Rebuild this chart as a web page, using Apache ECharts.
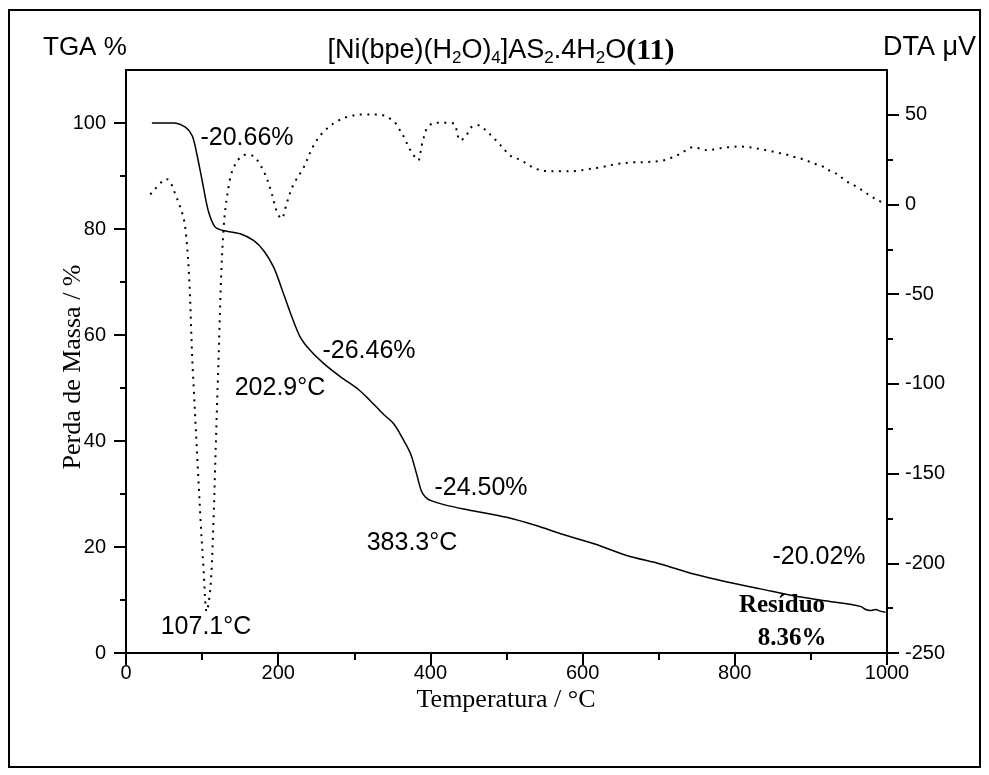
<!DOCTYPE html>
<html><head><meta charset="utf-8">
<script src="https://cdn.jsdelivr.net/npm/echarts@6/dist/echarts.min.js"></script>
<style>html,body{margin:0;padding:0;background:#fff}#c{width:989px;height:775px}</style>
</head><body><div id="c"></div>
<script>
// TGA (solid) – temperature °C and mass %
const tgaT = [34, 62, 78, 87, 93, 100, 108, 117, 128, 150, 168, 181, 194, 207, 218, 229, 242, 260, 282, 304, 321, 338, 352, 365, 374, 382, 388, 393, 400, 420, 450, 500, 540, 571, 615, 658, 702, 746, 790, 834, 877, 921, 965, 972, 978, 985, 991, 998];
const tgaV = [100, 100, 99.2, 97.6, 94.2, 89.2, 83.5, 80.4, 79.7, 79.1, 77.8, 75.9, 72.8, 67.8, 63.4, 59.6, 57.1, 54.6, 52.1, 49.9, 47.6, 45.1, 43.2, 40.1, 37.6, 33.7, 30.6, 29.5, 28.8, 27.9, 27.0, 25.6, 24.0, 22.5, 20.6, 18.4, 16.8, 14.9, 13.4, 12.1, 10.8, 9.8, 8.8, 8.2, 8.0, 8.2, 7.9, 7.7];
// DTA (dotted) – temperature °C and µV
const dtaT = [32, 49, 54, 62, 78, 88, 98, 102, 106, 111, 115, 117, 121, 128, 137, 146, 157, 168, 181, 190, 198, 204, 212, 220, 233, 247, 260, 277, 293, 312, 333, 343, 353, 360, 366, 371, 377, 384, 387, 389, 392, 396, 406, 422, 432, 435, 439, 447, 453, 463, 473, 482, 490, 499, 508, 518, 527, 538, 550, 571, 593, 602, 623, 645, 665, 685, 704, 714, 724, 735, 745, 755, 765, 774, 785, 795, 806, 816, 824, 835, 845, 856, 866, 876, 886, 896, 906, 916, 926, 936, 945, 954, 961, 970, 979, 989, 997];
const dtaV = [5.6, 13.5, 14.1, 8.9, -13.2, -94.3, -176, -203.7, -226.9, -213.2, -176, -148.2, -94.3, -14.8, 14.8, 24.1, 27.8, 26.8, 18.5, 8.3, -3.7, -7.8, 1.8, 11.1, 20.3, 33.3, 40.7, 46.3, 49.1, 50.2, 50.2, 48.7, 45.9, 41.4, 37, 32.4, 28.1, 24.6, 29.2, 33.7, 38.3, 42.8, 45.6, 45.6, 44.8, 40.2, 35.7, 38.3, 42.8, 44.2, 41.3, 37.6, 34.1, 29.8, 26.4, 25, 22.6, 20, 18.7, 18.5, 18.7, 19.4, 20.7, 22.6, 23.5, 23.7, 24.4, 25.6, 27.4, 30, 32, 31.1, 30.2, 30.9, 31.7, 32, 32.4, 32, 31.7, 30.7, 30, 28.9, 28.1, 26.8, 25.7, 24.2, 22.6, 21.1, 18.5, 16.7, 13.3, 11.4, 9.6, 7.2, 4.6, 2.2, 0.7];
// tick values
const xMajor = [0, 200, 400, 600, 800, 1000];
const tgaMajor = [0, 20, 40, 60, 80, 100];
const tgaMinor = [10, 30, 50, 70, 90];
const dtaMajor = [-250, -200, -150, -100, -50, 0, 50];
const dtaMinor = [-225, -175, -125, -75, -25, 25];
// texts
const titleParts = ['[Ni(bpe)(H', '2', 'O)', '4', ']AS', '2', '.4H', '2', 'O'];
const titleBold = '(11)';
const annotations = [
  {t: '-20.66%', x: 247, y: 138},
  {t: '-26.46%', x: 369, y: 351},
  {t: '202.9°C', x: 280, y: 388},
  {t: '-24.50%', x: 481, y: 488},
  {t: '383.3°C', x: 412, y: 543},
  {t: '-20.02%', x: 819, y: 557},
  {t: '107.1°C', x: 206, y: 627}
];

const SANS = 'Liberation Sans';
const SERIF = 'Liberation Serif';
const black = '#000';

let titleText = '';
titleParts.forEach((p, i) => { titleText += (i % 2 === 0 ? '{n|' : '{s|') + p + '}'; });
titleText += '{b|' + titleBold + '}';

const chart = echarts.init(document.getElementById('c'));
const axisLineStyle = {color: black, width: 2};
const lbl = {color: black, fontFamily: SANS, fontSize: 20};

function yAx(pos, min, max, vals, len, showLine, showLabel, margin) {
  return {
    type: 'value', position: pos, min: min, max: max,
    splitLine: {show: false},
    axisLine: {show: showLine, onZero: false, lineStyle: axisLineStyle},
    axisTick: {show: true, length: len, customValues: vals, lineStyle: {color: black, width: 2}},
    axisLabel: Object.assign({show: showLabel, customValues: vals, margin: margin}, lbl)
  };
}

chart.setOption({
  animation: false,
  backgroundColor: '#fff',
  title: {
    text: titleText, left: 496, top: 30, textAlign: 'center',
    textStyle: {
      fontWeight: 'normal',
      rich: {
        n: {fontFamily: SANS, fontSize: 27, fontWeight: 'normal', lineHeight: 32, color: black},
        s: {fontFamily: SANS, fontSize: 17, fontWeight: 'normal', lineHeight: 14, verticalAlign: 'bottom', color: black},
        b: {fontFamily: SERIF, fontSize: 30, fontWeight: 'bold', lineHeight: 32, color: black}
      }
    }
  },
  grid: {left: 126, right: 102, top: 70, bottom: 122},
  xAxis: [
    {type: 'value', position: 'bottom', min: 0, max: 1000, interval: 200,
     splitLine: {show: false},
     axisLine: {onZero: false, lineStyle: axisLineStyle},
     axisTick: {length: 12, lineStyle: {color: black, width: 2}},
     minorTick: {show: true, splitNumber: 2, length: 7, lineStyle: {color: black, width: 2}},
     axisLabel: Object.assign({margin: 10, formatter: v => String(v)}, lbl)},
    {type: 'value', position: 'top', min: 0, max: 1000,
     splitLine: {show: false}, axisTick: {show: false}, axisLabel: {show: false},
     axisLine: {onZero: false, lineStyle: axisLineStyle}}
  ],
  yAxis: [
    yAx('left', 0, 110, tgaMajor, 12, true, true, 20),
    yAx('left', 0, 110, tgaMinor, 6, false, false, 8),
    yAx('right', -250, 75, dtaMajor, 12, true, true, 18),
    yAx('right', -250, 75, dtaMinor, 6, false, false, 8)
  ],
  series: [
    {type: 'line', name: 'TGA', xAxisIndex: 0, yAxisIndex: 0, showSymbol: false, smooth: 0.3,
     lineStyle: {color: black, width: 1.5},
     data: tgaT.map((t, i) => [t, tgaV[i]])},
    {type: 'line', name: 'DTA', xAxisIndex: 0, yAxisIndex: 2, showSymbol: false, smooth: 0.35,
     lineStyle: {color: black, width: 2, type: [2, 5.5]},
     data: dtaT.map((t, i) => [t, dtaV[i]])}
  ],
  graphic: [
    {type: 'rect', shape: {x: 9, y: 10, width: 971, height: 757}, style: {fill: 'none', stroke: black, lineWidth: 2}, z: 100},
    {type: 'text', x: 43, y: 48, style: {text: 'TGA %', fontFamily: SANS, fontSize: 26, fill: black, textVerticalAlign: 'middle'}},
    {type: 'text', x: 976, y: 48, style: {text: 'DTA μV', fontFamily: SANS, fontSize: 27, fill: black, textAlign: 'right', textVerticalAlign: 'middle'}},
    {type: 'text', x: 506, y: 700, style: {text: 'Temperatura / °C', fontFamily: SERIF, fontSize: 26, fill: black, textAlign: 'center', textVerticalAlign: 'middle'}},
    {type: 'text', x: 73, y: 367, rotation: Math.PI / 2, style: {text: 'Perda de Massa / %', fontFamily: SERIF, fontSize: 26, fill: black, textAlign: 'center', textVerticalAlign: 'middle'}},
    {type: 'text', x: 782, y: 606, style: {text: 'Resíduo', fontFamily: SERIF, fontSize: 25, fontWeight: 'bold', fill: black, textAlign: 'center', textVerticalAlign: 'middle'}},
    {type: 'text', x: 792, y: 639, style: {text: '8.36%', fontFamily: SERIF, fontSize: 25, fontWeight: 'bold', fill: black, textAlign: 'center', textVerticalAlign: 'middle'}}
  ].concat(annotations.map(a => ({
    type: 'text', x: a.x, y: a.y,
    style: {text: a.t, fontFamily: SANS, fontSize: 25, fill: black, textAlign: 'center', textVerticalAlign: 'middle'}
  })))
});
</script></body></html>
